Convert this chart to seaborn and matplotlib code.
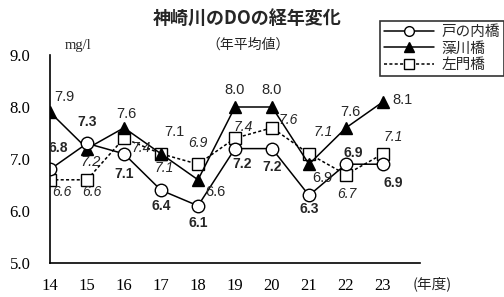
import matplotlib
matplotlib.use("Agg")
import matplotlib.pyplot as plt
import seaborn as sns
import pandas as pd
from matplotlib.lines import Line2D

years = [14, 15, 16, 17, 18, 19, 20, 21, 22, 23]
tonouchi = [6.8, 7.3, 7.1, 6.4, 6.1, 7.2, 7.2, 6.3, 6.9, 6.9]
mokawa = [7.9, 7.2, 7.6, 7.1, 6.6, 8.0, 8.0, 6.9, 7.6, 8.1]
samon = [6.6, 6.6, 7.4, 7.1, 6.9, 7.4, 7.6, 7.1, 6.7, 7.1]
series_names = ["戸の内橋", "藻川橋", "左門橋"]
y_ticks = [5.0, 6.0, 7.0, 8.0, 9.0]

# label offsets in pixels (style/position only)
off_c = [(8, 21), (0, 21), (0, -20), (0, -16), (0, -17), (7, -15), (0, -18), (0, -14), (7, 11), (10, -19)]
off_t = [(14, 15), (4, -13), (2, 14), (13, 22), (17, -12), (0, 17), (0, 17), (13, -14), (4, 16), (20, 2)]
off_s = [(12, -12), (5, -12), (17, -10), (3, -14), (0, 21), (8, 11), (16, 8), (14, 22), (1, -19), (10, 17)]

sns.set_style("white")
plt.rcParams['font.family'] = ['Liberation Serif', 'Noto Sans CJK JP']

fig = plt.figure(figsize=(5.04, 2.97), dpi=100)
ax = fig.add_axes([50/504, 34/297, 370/504, 208/297])

df = pd.DataFrame({"year": years, "c": tonouchi, "t": mokawa, "s": samon})
common = dict(color="black", lw=1.1, markeredgecolor="black", markeredgewidth=1.0, ax=ax, legend=False)
sns.lineplot(data=df, x="year", y="s", marker="s", markersize=8.5, markerfacecolor="white",
             linestyle=(0, (2, 1.5)), **common)
sns.lineplot(data=df, x="year", y="t", marker="^", markersize=9, markerfacecolor="black",
             linestyle="-", **common)
sns.lineplot(data=df, x="year", y="c", marker="o", markersize=9, markerfacecolor="white",
             linestyle="-", **common)

for x, v, o in zip(years, tonouchi, off_c):
    ax.annotate(f"{v:.1f}", (x, v), xytext=o, textcoords="offset pixels", ha="center", va="center",
                fontsize=10, fontweight="bold", family="Liberation Sans")
for i, (x, v, o) in enumerate(zip(years, mokawa, off_t)):
    ax.annotate(f"{v:.1f}", (x, v), xytext=o, textcoords="offset pixels", ha="center", va="center",
                fontsize=10.5, family="Liberation Sans", style="italic" if i == 1 else "normal")
for x, v, o in zip(years, samon, off_s):
    ax.annotate(f"{v:.1f}", (x, v), xytext=o, textcoords="offset pixels", ha="center", va="center",
                fontsize=10, style="italic", family="Liberation Sans")

ax.set_xlim(14, 24)
ax.set_ylim(5, 9)
ax.set_xticks(years + [24])
ax.set_xticklabels([str(y) for y in years] + [""])
ax.set_yticks(y_ticks)
ax.set_yticklabels([f"{v:.1f}" for v in y_ticks])
ax.tick_params(direction="in", length=4, width=1, colors="black", labelsize=12)
ax.tick_params(axis="x", pad=11)
ax.tick_params(axis="y", pad=14)
ax.set_xlabel("")
ax.set_ylabel("")
for s in ["top", "right"]:
    ax.spines[s].set_visible(False)
for s in ["left", "bottom"]:
    ax.spines[s].set_color("black")
    ax.spines[s].set_linewidth(1.2)

fig.text(247/504, 1 - 19/297, "神崎川のDOの経年変化", ha="center", va="center",
         fontsize=13, fontweight="bold", family=["Noto Sans CJK JP"])
fig.text(248/504, 1 - 45/297, "（年平均値）", ha="center", va="center",
         fontsize=10, family=["Noto Sans CJK JP"])
fig.text(78/504, 1 - 46/297, "mg/l", ha="center", va="center", fontsize=10.5, family="Liberation Serif")
fig.text(432/504, 1 - 284/297, "(年度)", ha="center", va="center", fontsize=10.5,
         family=["Noto Sans CJK JP"])

handles = [
    Line2D([], [], color="black", lw=1.1, marker="o", markersize=7, markerfacecolor="white"),
    Line2D([], [], color="black", lw=1.1, marker="^", markersize=7, markerfacecolor="black"),
    Line2D([], [], color="black", lw=1.1, marker="s", markersize=7, markerfacecolor="white",
           linestyle=(0, (2, 1.5))),
]
leg = fig.legend(handles, series_names, loc="upper right", bbox_to_anchor=(1.0, 1 - 21/297),
                 prop={"family": "Noto Sans CJK JP", "size": 10.5}, frameon=True, fancybox=False,
                 edgecolor="black", handlelength=3.4, borderpad=0.3, labelspacing=0.15,
                 handletextpad=0.5, borderaxespad=0)
leg.get_frame().set_linewidth(1.2)

fig.savefig("out.png", dpi=100)
